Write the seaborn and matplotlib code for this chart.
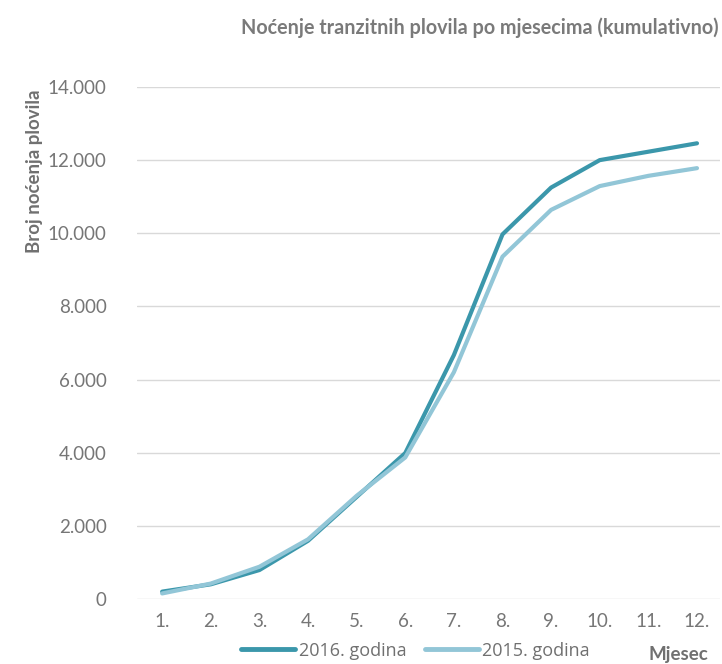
import matplotlib
matplotlib.use("Agg")
import matplotlib.pyplot as plt
import seaborn as sns
import pandas as pd
from matplotlib.ticker import FuncFormatter

months = ["1.", "2.", "3.", "4.", "5.", "6.", "7.", "8.", "9.", "10.", "11.", "12."]
vals_2016 = [200, 400, 790, 1590, 2790, 3990, 6670, 9970, 11250, 12000, 12230, 12460]
vals_2015 = [150, 420, 880, 1630, 2820, 3870, 6200, 9360, 10640, 11290, 11570, 11780]
series_names = ["2016. godina", "2015. godina"]
yticks = [0, 2000, 4000, 6000, 8000, 10000, 12000, 14000]

df = pd.DataFrame({
    "pos": list(range(len(months))) * 2,
    "value": vals_2016 + vals_2015,
    "series": [series_names[0]] * len(months) + [series_names[1]] * len(months),
})

sns.set_theme(style="white")
plt.rcParams["font.family"] = ["Lato", "DejaVu Sans"]

fig = plt.figure(figsize=(7.22, 6.64), dpi=100)
ax = fig.add_axes([0.19, 0.098, 0.807, 0.771])

palette = {series_names[0]: "#3b97ab", series_names[1]: "#92c6d7"}
sns.lineplot(data=df, x="pos", y="value", hue="series", palette=palette,
             linewidth=3, ax=ax, legend=True, sort=False)

ax.set_ylim(0, 14000)
ax.set_xlim(-0.514, 11.47)
ax.set_yticks(yticks)
ax.yaxis.set_major_formatter(FuncFormatter(lambda v, p: f"{int(v):,}".replace(",", ".")))
ax.set_xticks(range(len(months)))
ax.set_xticklabels(months)
ax.tick_params(axis="both", labelsize=13.5, labelcolor="#767676", length=0, pad=10)
ax.tick_params(axis="y", pad=22)
ax.grid(axis="y", color="#d9d9d9", linewidth=1)
for s in ax.spines.values():
    s.set_visible(False)
ax.set_xlabel("")
ax.set_ylabel("")

fig.text(0.048, 0.865, "Broj noćenja plovila", rotation=90, ha="center", va="top",
         fontsize=13.5, fontweight="bold", color="#707070")
fig.text(0.995, 0.958, "Noćenje tranzitnih plovila po mjesecima (kumulativno)",
         ha="right", va="center", fontsize=14.2, fontweight="bold", color="#7a7a7a")
fig.text(0.94, 0.0136, "Mjesec", ha="center", va="center", fontsize=13.5,
         fontweight="bold", color="#707070")

leg = ax.legend(loc="center", bbox_to_anchor=(0.478, -0.101), ncol=2, frameon=False,
                prop={"family": ["Open Sans", "DejaVu Sans"], "size": 13},
                handlelength=3, columnspacing=1.0, handletextpad=0.2,
                borderpad=0, borderaxespad=0)
for t in leg.get_texts():
    t.set_color("#707070")
for h in leg.get_lines():
    h.set_linewidth(3.5)

fig.savefig("out.png", dpi=100, facecolor="white")
